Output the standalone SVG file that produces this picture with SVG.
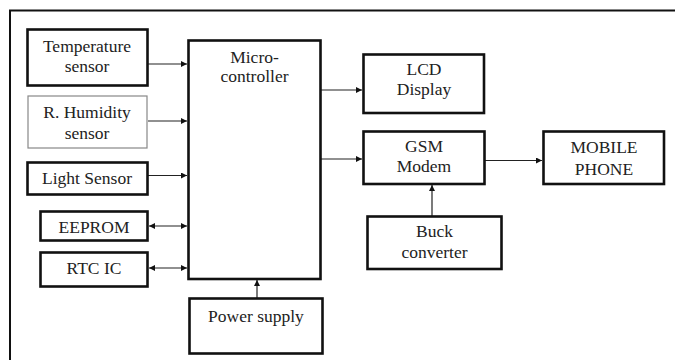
<svg xmlns="http://www.w3.org/2000/svg" width="675" height="360" viewBox="0 0 675 360">
<style>
.b{fill:#fff;stroke:#111;stroke-width:2.6}
.t{fill:none;stroke:#888;stroke-width:1.2}
text{font-family:"Liberation Serif","Times New Roman",serif;font-size:17.5px;fill:#222;text-anchor:middle}
.c{fill:none;stroke:#222;stroke-width:1.2}
</style>
<defs>
<marker id="a" viewBox="0 0 10 10" refX="10" refY="5" markerWidth="6" markerHeight="6" markerUnits="userSpaceOnUse" orient="auto-start-reverse">
<path d="M0,0L10,5L0,10z" fill="#111"/>
</marker>
</defs>
<rect width="675" height="360" fill="#fff"/>
<path d="M10,360V10.5H675" fill="none" stroke="#111" stroke-width="2"/>
<g id="connectors">
<line class="c" x1="148" y1="64" x2="187" y2="64" marker-end="url(#a)"/>
<line class="c" x1="148" y1="121" x2="187" y2="121" marker-end="url(#a)"/>
<line class="c" x1="148" y1="175.5" x2="187" y2="175.5" marker-end="url(#a)"/>
<line class="c" x1="149" y1="226" x2="187" y2="226" marker-start="url(#a)" marker-end="url(#a)"/>
<line class="c" x1="149" y1="268" x2="187" y2="268" marker-start="url(#a)" marker-end="url(#a)"/>
<line class="c" x1="257" y1="298" x2="257" y2="280" marker-end="url(#a)"/>
<line class="c" x1="321" y1="90" x2="362" y2="90" marker-end="url(#a)"/>
<line class="c" x1="321" y1="159" x2="362" y2="159" marker-end="url(#a)"/>
<line class="c" x1="485" y1="160.5" x2="542" y2="160.5" marker-end="url(#a)"/>
<line class="c" x1="432" y1="216" x2="432" y2="185" marker-end="url(#a)"/>
</g>
<g id="temp"><rect class="b" x="27.5" y="29.5" width="120" height="56"/><text x="87" y="51.5">Temperature</text><text x="87" y="72">sensor</text></g>
<g id="humidity"><rect class="t" x="28" y="96" width="119" height="52"/><text x="87" y="118">R. Humidity</text><text x="87" y="138.5">sensor</text></g>
<g id="light"><rect class="b" x="27.5" y="162.5" width="120" height="32"/><text x="87" y="183.5">Light Sensor</text></g>
<g id="eeprom"><rect class="b" x="40.5" y="211.5" width="107" height="29"/><text x="94" y="232.5">EEPROM</text></g>
<g id="rtc"><rect class="b" x="40.5" y="252.5" width="107" height="34"/><text x="94" y="274">RTC IC</text></g>
<g id="micro"><rect class="b" x="188.5" y="40.5" width="132" height="238.5"/><text x="254.5" y="62.5">Micro-</text><text x="254.5" y="81.5">controller</text></g>
<g id="power"><rect class="b" x="189.5" y="298.5" width="133" height="55"/><text x="256" y="321.5">Power supply</text></g>
<g id="lcd"><rect class="b" x="363.5" y="54.5" width="120.5" height="58.5"/><text x="424" y="75">LCD</text><text x="424" y="95">Display</text></g>
<g id="gsm"><rect class="b" x="363.5" y="131.5" width="121" height="52.5"/><text x="424" y="151.5">GSM</text><text x="424" y="171.5">Modem</text></g>
<g id="mobile"><rect class="b" x="543.5" y="131.5" width="120.5" height="52.5"/><text x="604" y="153">MOBILE</text><text x="604" y="175">PHONE</text></g>
<g id="buck"><rect class="b" x="367.5" y="216.5" width="134" height="52.5"/><text x="434.5" y="237">Buck</text><text x="434.5" y="258">converter</text></g>
</svg>
